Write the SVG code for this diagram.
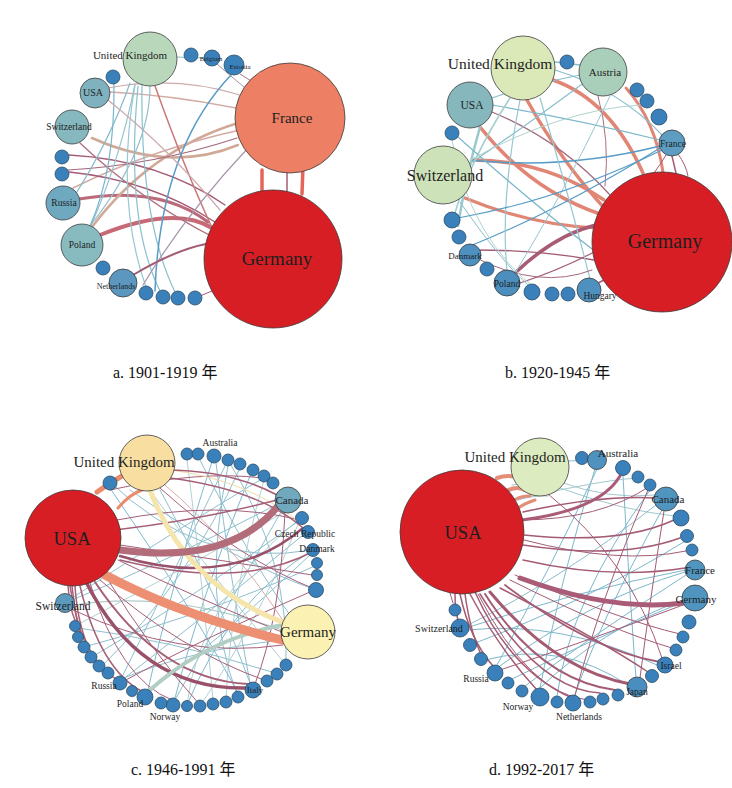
<svg xmlns="http://www.w3.org/2000/svg" width="732" height="788" viewBox="0 0 732 788">
<style>
.e{fill:none;stroke-linecap:round}
.r{stroke:#de7866}.rr{stroke:#e2554a}.m{stroke:#9b4a66}.t{stroke:#6fb0c6}.lt{stroke:#a5cccb}.b{stroke:#4592c0}.lr{stroke:#cfa39c}.y{stroke:#f4e2a0}.br{stroke:#cda08c}
.w1{stroke-width:1}.w15{stroke-width:1.5}.w2{stroke-width:2}.w3{stroke-width:3}
.n{stroke:#3c3c3c;stroke-width:0.8}
.s{fill:#3a80ba;stroke:#2b4d66;stroke-width:0.8}
.lbl{font-family:"Liberation Serif","Times New Roman",serif;fill:#1e1e1e;text-anchor:middle}
.cap{font-family:"Liberation Serif","Noto Sans CJK SC",serif;font-size:16px;fill:#111}
</style>
<rect width="732" height="788" fill="#ffffff"/>

<!-- ================= Panel a ================= -->
<g id="edges-a" class="e" opacity="0.9">
<path class="rr" stroke-width="3.5" d="M262 170 L262 196"/>
<path class="m w15" d="M287 173 L287 192"/>
<path class="rr" stroke-width="3.5" d="M303 166 L302 194"/>
<path stroke="#c25a68" stroke-width="4" d="M100 235 Q175 205 212 228"/>
<path stroke="#b45a6c" stroke-width="3" d="M79 199 Q160 185 208 222"/>
<path class="br" stroke-width="2.5" d="M92 138 Q170 173 238 145"/>
<path class="br" stroke-width="2.5" d="M92 227 Q150 150 238 123"/>
<path class="lr w15" d="M73 188 Q150 150 240 130"/>
<path class="lr w15" d="M110 92 Q170 95 236 108"/>
<path stroke="#c8a4a6" stroke-width="1.2" d="M108 88 Q175 75 240 95"/>
<path class="m" stroke-width="1.3" d="M69 155 Q160 160 225 205"/>
<path class="m" stroke-width="1.3" d="M69 172 Q150 180 215 222"/>
<path stroke="#9a5a72" stroke-width="1.2" d="M68 170 Q155 165 237 138"/>
<path stroke="#a86070" stroke-width="1.3" d="M80 143 Q140 200 215 238"/>
<path stroke="#c56a6a" stroke-width="1.5" d="M155 86 Q185 170 214 232"/>
<path stroke="#7cb9c8" stroke-width="1.2" d="M142 85 Q140 220 175 292"/>
<path stroke="#7cb9c8" stroke-width="1.2" d="M138 86 Q125 220 160 291"/>
<path stroke="#8cc2cc" stroke-width="1.2" d="M135 85 Q115 200 146 287"/>
<path stroke="#78b4c6" stroke-width="1.2" d="M130 83 Q110 140 75 195"/>
<path stroke="#88bcc8" stroke-width="1.2" d="M135 84 Q120 160 90 228"/>
<path stroke="#6aaec8" stroke-width="1.2" d="M114 84 Q115 170 90 226"/>
<path class="b w15" d="M231 75 Q160 150 155 291"/>
<path stroke="#7cb9c8" stroke-width="1.2" d="M175 57 L205 58"/>
<path stroke="#9d8aa2" stroke-width="1.2" d="M248 148 Q185 215 143 285"/>
<path class="m w2" d="M133 275 Q175 250 206 244"/>
<path class="m w1" d="M200 296 L212 291"/>
<path stroke="#9b8a9a" stroke-width="1" d="M217 64 Q235 80 248 90"/>
<path stroke="#9b6a7a" stroke-width="1" d="M240 74 L256 84"/>
<path stroke="#c8a0a6" stroke-width="1.2" d="M108 100 Q170 150 220 210"/>
<path stroke="#8ab8c4" stroke-width="1.2" d="M90 226 Q150 150 150 86"/>
</g>
<g id="a-uk"><circle class="n" cx="150" cy="59" r="27" fill="#b9d8bb"/><text class="lbl" x="130" y="59" font-size="11">United Kingdom</text></g>
<g id="a-s1"><circle class="s" cx="191" cy="55" r="7"/></g>
<g id="a-belgium"><circle class="s" cx="212" cy="58" r="8"/><text class="lbl" x="211" y="61" font-size="6.5">Belgium</text></g>
<g id="a-estonia"><circle class="s" cx="234" cy="65" r="10" fill="#4a8ebf"/><text class="lbl" x="240" y="69" font-size="7">Estonia</text></g>
<g id="a-france"><circle class="n" cx="290" cy="118" r="55" fill="#ec7f64"/><text class="lbl" x="292" y="123" font-size="15">France</text></g>
<g id="a-germany"><circle class="n" cx="273" cy="259" r="69" fill="#d81e25"/><text class="lbl" x="277" y="265" font-size="19">Germany</text></g>
<g id="a-usa"><circle class="n" cx="95" cy="93" r="15" fill="#7fb1be"/><text class="lbl" x="93" y="96" font-size="10">USA</text></g>
<g id="a-s2"><circle class="s" cx="113" cy="77" r="7"/></g>
<g id="a-switzerland"><circle class="n" cx="72" cy="127" r="17" fill="#85b8bf"/><text class="lbl" x="69" y="130" font-size="9.5">Switzerland</text></g>
<g id="a-s3"><circle class="s" cx="62" cy="157" r="7"/></g>
<g id="a-s4"><circle class="s" cx="62" cy="174" r="7"/></g>
<g id="a-russia"><circle class="n" cx="63" cy="203" r="17" fill="#6fa9bf"/><text class="lbl" x="64" y="206" font-size="9.5">Russia</text></g>
<g id="a-poland"><circle class="n" cx="82" cy="245" r="21" fill="#87bbc0"/><text class="lbl" x="82" y="248" font-size="9.5">Poland</text></g>
<g id="a-s5"><circle class="s" cx="103" cy="268" r="7"/></g>
<g id="a-netherlands"><circle class="n" cx="123" cy="283" r="14" fill="#5b97be"/><text class="lbl" x="116" y="289" font-size="8">Netherlands</text></g>
<g id="a-s6"><circle class="s" cx="146" cy="293" r="7"/></g>
<g id="a-s7"><circle class="s" cx="163" cy="297" r="7"/></g>
<g id="a-s8"><circle class="s" cx="178" cy="298" r="7"/></g>
<g id="a-s9"><circle class="s" cx="195" cy="298" r="7"/></g>
<text class="cap" x="113" y="378">a. 1901-1919 年</text>

<!-- ================= Panel b ================= -->
<g id="edges-b" class="e" opacity="0.9">
<path class="r" stroke-width="3.5" d="M527 100 Q560 160 606 210"/>
<path class="r" stroke-width="3.5" d="M553 80 Q610 100 643 173"/>
<path class="r" stroke-width="3" d="M626 88 Q655 120 663 172"/>
<path class="r" stroke-width="3.5" d="M480 127 Q530 190 600 214"/>
<path class="r" stroke-width="3.5" d="M472 160 Q545 160 604 200"/>
<path class="r" stroke-width="3" d="M465 198 Q530 225 597 228"/>
<path stroke="#a04a66" stroke-width="3.5" d="M515 273 Q555 235 596 225"/>
<path class="m" stroke-width="1.3" d="M475 250 Q540 250 594 260"/>
<path class="m w15" d="M598 283 L606 279"/>
<path class="m" stroke-width="1.2" d="M520 283 Q560 270 598 250"/>
<path stroke="#9b5a70" stroke-width="1.3" d="M492 112 Q560 140 610 195"/>
<path stroke="#a06070" stroke-width="1" d="M598 96 Q610 140 605 186"/>
<path class="m w15" d="M672 156 L676 173"/>
<path class="m w1" d="M666 155 Q660 165 654 173"/>
<path class="m w1" d="M678 154 Q686 165 688 176"/>
<path class="b w15" d="M471 160 Q565 170 660 146"/>
<path class="t" stroke-width="1.2" d="M492 105 Q580 120 660 140"/>
<path stroke="#7cb9c8" stroke-width="1.2" d="M555 70 Q620 90 662 135"/>
<path class="b" stroke-width="1.2" d="M470 246 Q560 210 660 148"/>
<path stroke="#7cb9c8" stroke-width="1.2" d="M585 82 Q520 130 468 165"/>
<path stroke="#7cb9c8" stroke-width="1.2" d="M580 75 Q530 85 492 98"/>
<path stroke="#8ec4c8" stroke-width="2.5" d="M480 127 Q465 180 458 226"/>
<path stroke="#9ac8c8" stroke-width="1.5" d="M510 98 Q470 160 455 213"/>
<path stroke="#8cc2cc" stroke-width="1.2" d="M540 98 Q570 200 590 279"/>
<path stroke="#8cc2cc" stroke-width="1.2" d="M520 100 Q500 200 507 271"/>
<path stroke="#8cc2cc" stroke-width="1" d="M610 96 Q560 200 515 273"/>
<path class="t" stroke-width="1.2" d="M458 137 Q540 210 600 255"/>
<path stroke="#7cb9c8" stroke-width="1" d="M460 202 Q500 260 528 285"/>
<path stroke="#a8d0cc" stroke-width="1" d="M640 105 Q560 110 470 160"/>
<path stroke="#7cb9c8" stroke-width="1.5" d="M555 62 L580 65"/>
<path class="b" stroke-width="1.2" d="M458 218 Q560 200 662 150"/>
<path stroke="#9b5a70" stroke-width="1" d="M476 258 Q540 290 592 270"/>
<path stroke="#a8d0cc" stroke-width="1" d="M452 140 Q470 240 540 292"/>
</g>
<g id="b-uk"><circle class="n" cx="523" cy="68" r="32" fill="#dbe8b8"/><text class="lbl" x="500" y="69" font-size="15.5">United Kingdom</text></g>
<g id="b-s1"><circle class="s" cx="567" cy="62" r="7"/></g>
<g id="b-austria"><circle class="n" cx="603" cy="72" r="24" fill="#a9cfba"/><text class="lbl" x="605" y="76" font-size="11">Austria</text></g>
<g id="b-usa"><circle class="n" cx="470" cy="105" r="23" fill="#85b7bd"/><text class="lbl" x="472" y="109" font-size="11.5">USA</text></g>
<g id="b-s2"><circle class="s" cx="637" cy="90" r="7"/></g>
<g id="b-s3"><circle class="s" cx="647" cy="101" r="7"/></g>
<g id="b-s4"><circle class="s" cx="659" cy="117" r="8"/></g>
<g id="b-france"><circle class="n" cx="672" cy="143" r="13" fill="#5d9dc1"/><text class="lbl" x="673" y="147" font-size="9.5">France</text></g>
<g id="b-s5"><circle class="s" cx="452" cy="133" r="7"/></g>
<g id="b-switzerland"><circle class="n" cx="443" cy="175" r="29" fill="#cde2b9"/><text class="lbl" x="445" y="181" font-size="16">Switzerland</text></g>
<g id="b-germany"><circle class="n" cx="662" cy="242" r="70" fill="#d81e25"/><text class="lbl" x="665" y="248" font-size="20">Germany</text></g>
<g id="b-s6"><circle class="s" cx="452" cy="220" r="8"/></g>
<g id="b-s7"><circle class="s" cx="459" cy="237" r="7"/></g>
<g id="b-danmark"><circle class="n" cx="470" cy="255" r="11" fill="#4e90bf"/><text class="lbl" x="465" y="259" font-size="9">Danmark</text></g>
<g id="b-s8"><circle class="s" cx="487" cy="269" r="7"/></g>
<g id="b-poland"><circle class="n" cx="507" cy="283" r="13" fill="#4c8fbe"/><text class="lbl" x="507" y="287" font-size="9.5">Poland</text></g>
<g id="b-s9"><circle class="s" cx="532" cy="292" r="8"/></g>
<g id="b-s10"><circle class="s" cx="552" cy="294" r="7"/></g>
<g id="b-s11"><circle class="s" cx="568" cy="294" r="7"/></g>
<g id="b-hungary"><circle class="n" cx="589" cy="290" r="12" fill="#4e90be"/><text class="lbl" x="600" y="299" font-size="9.5">Hungary</text></g>
<text class="cap" x="505" y="378">b. 1920-1945 年</text>

<!-- ================= Panel c ================= -->
<g id="edges-c" class="e" opacity="0.88">
<path stroke="#7fb7c7" stroke-width="1" d="M276 505 Q170 560 72 600"/>
<path stroke="#6fb0c6" stroke-width="1" d="M212 462 Q170 590 148 690"/>
<path stroke="#7fb7c7" stroke-width="1" d="M216 463 Q230 580 250 683"/>
<path stroke="#7fb7c7" stroke-width="1" d="M225 466 Q160 600 122 677"/>
<path stroke="#7fb7c7" stroke-width="1" d="M200 460 Q250 560 290 615"/>
<path stroke="#6fb0c6" stroke-width="1" d="M250 476 Q200 600 175 698"/>
<path stroke="#a8c8c4" stroke-width="1.2" d="M282 630 Q170 590 74 605"/>
<path stroke="#7fb7c7" stroke-width="1" d="M283 640 Q190 650 124 678"/>
<path stroke="#7fb7c7" stroke-width="1" d="M303 535 Q200 620 122 680"/>
<path stroke="#7fb7c7" stroke-width="1" d="M282 510 Q220 620 176 698"/>
<path stroke="#7fb7c7" stroke-width="1" d="M160 490 Q220 600 250 683"/>
<path stroke="#7fb7c7" stroke-width="1" d="M260 480 Q160 540 72 598"/>
<path stroke="#7fb7c7" stroke-width="1" d="M310 555 Q220 640 148 692"/>
<path stroke="#a8ccd0" stroke-width="1" d="M187 460 Q200 560 213 700"/>
<path stroke="#7fb7c7" stroke-width="1" d="M272 672 Q170 640 78 628"/>
<path stroke="#7fb7c7" stroke-width="1" d="M240 468 Q190 580 100 668"/>
<path stroke="#a8ccd0" stroke-width="1" d="M264 480 Q230 600 226 700"/>
<path stroke="#7fb7c7" stroke-width="1" d="M317 565 Q220 610 84 647"/>
<path stroke="#7fb7c7" stroke-width="1" d="M312 550 Q200 570 108 480"/>
<path stroke="#a8ccd0" stroke-width="1" d="M286 665 Q200 560 150 490"/>
<path stroke="#7fb7c7" stroke-width="1" d="M238 697 Q200 600 228 466"/>
<path stroke="#a8ccd0" stroke-width="1" d="M298 520 Q200 600 187 704"/>
<path stroke="#7fb7c7" stroke-width="1" d="M92 657 Q190 600 300 520"/>
<path stroke="#7fb7c7" stroke-width="1" d="M130 490 Q230 560 316 590"/>
<path stroke="#6fb0c6" stroke-width="1" d="M108 485 Q200 620 240 697"/>
<path stroke="#a8ccd0" stroke-width="1" d="M300 520 Q260 620 200 706"/>
<path stroke="#7fb7c7" stroke-width="1" d="M228 460 Q290 560 286 665"/>
<path stroke="#6fb0c6" stroke-width="1" d="M187 705 Q230 600 313 550"/>
<path stroke="#a8ccd0" stroke-width="1" d="M75 626 Q200 560 288 510"/>
<path class="m w1" d="M285 512 Q280 620 255 684"/>
<path class="m w1" d="M120 545 Q220 560 312 575"/>
<path class="m w1" d="M118 560 Q200 600 282 632"/>
<path stroke="#d4a2a0" stroke-width="1" d="M165 485 Q230 540 284 622"/>
<path class="m w1" d="M310 592 Q200 640 122 682"/>
<path class="m w1" d="M73 610 Q180 660 283 645"/>
<path class="m w1" d="M110 490 Q200 470 262 478"/>
<path class="m w1" d="M117 520 Q220 500 300 520"/>
<path class="m w1" d="M160 488 Q240 560 317 590"/>
<path class="m w1" d="M105 575 Q150 650 200 705"/>
<path class="m w1" d="M100 580 Q180 650 264 680"/>
<path stroke="#f0d89c" stroke-width="1" d="M170 470 Q250 480 303 525"/>
<path class="m w15" d="M75 586 Q80 660 118 680"/>
<path class="m w15" d="M80 586 Q100 670 143 692"/>
<path class="m w1" d="M90 583 Q120 680 172 700"/>
<path class="m w15" d="M68 586 Q70 610 75 620"/>
<path class="m w15" d="M72 586 Q76 620 80 632"/>
<path class="m w15" d="M70 586 Q78 630 86 643"/>
<path class="m w15" d="M115 530 Q200 520 277 500"/>
<path class="m w15" d="M165 470 Q230 470 277 495"/>
<path class="m w15" d="M170 478 Q260 490 303 528"/>
<path class="m w15" d="M120 560 Q240 590 312 552"/>
<path stroke="#8c3a55" stroke-width="2.5" d="M120 556 Q230 590 303 528"/>
<path stroke="#9b4a62" stroke-width="2" d="M95 582 Q160 680 248 684"/>
<path stroke="#8c3a55" stroke-width="3.5" d="M85 580 Q140 690 246 688"/>
<path stroke="#a8c8bc" stroke-width="4" d="M150 690 Q205 640 282 625"/>
<path stroke="#ea7a58" stroke-width="5" d="M97 492 Q108 484 122 476"/>
<path stroke="#ea7a58" stroke-width="3" d="M118 508 Q130 494 142 490"/>
<path stroke="#f4e2a0" stroke-width="5" d="M150 490 Q186 585 282 622"/>
<path stroke="#a85868" stroke-width="7" d="M120 550 Q230 565 278 506"/>
<path stroke="#ea8060" stroke-width="9" d="M105 575 Q180 615 282 640"/>
</g>
<g id="c-usa"><circle class="n" cx="73" cy="538" r="48" fill="#d81e25"/><text class="lbl" x="72" y="545" font-size="18.5">USA</text></g>
<g id="c-uk"><circle class="n" cx="147" cy="463" r="28" fill="#f9dea2"/><text class="lbl" x="124" y="467" font-size="15">United Kingdom</text></g>
<g id="c-s1"><circle class="s" cx="110" cy="483" r="7"/></g>
<g id="c-s2"><circle class="s" cx="187" cy="454" r="6"/></g>
<g id="c-s3"><circle class="s" cx="198" cy="454" r="6"/></g>
<g id="c-australia"><circle class="s" cx="214" cy="456" r="7"/><text class="lbl" x="220" y="446" font-size="9.5">Australia</text></g>
<g id="c-s4"><circle class="s" cx="228" cy="460" r="6"/></g>
<g id="c-s5"><circle class="s" cx="240" cy="464" r="6"/></g>
<g id="c-s6"><circle class="s" cx="253" cy="470" r="6"/></g>
<g id="c-s7"><circle class="s" cx="264" cy="476" r="6"/></g>
<g id="c-s8"><circle class="s" cx="273" cy="483" r="6"/></g>
<g id="c-canada"><circle class="n" cx="288" cy="500" r="13" fill="#70a8bd"/><text class="lbl" x="292" y="504" font-size="11">Canada</text></g>
<g id="c-s9"><circle class="s" cx="302" cy="518" r="6.5"/></g>
<g id="c-czech"><circle class="s" cx="308" cy="532" r="6.5"/><text class="lbl" x="305" y="537" font-size="9.5">Czech Republic</text></g>
<g id="c-danmark"><circle class="s" cx="313" cy="550" r="6.5"/><text class="lbl" x="317" y="552" font-size="9.5">Danmark</text></g>
<g id="c-s10"><circle class="s" cx="317" cy="563" r="5.5"/></g>
<g id="c-s11"><circle class="s" cx="317" cy="575" r="5.5"/></g>
<g id="c-s12"><circle class="s" cx="316" cy="590" r="7.5"/></g>
<g id="c-germany"><circle class="n" cx="308" cy="632" r="27" fill="#fbf1b2"/><text class="lbl" x="308" y="637" font-size="15">Germany</text></g>
<g id="c-s13"><circle class="s" cx="286" cy="665" r="6"/></g>
<g id="c-s14"><circle class="s" cx="277" cy="674" r="6"/></g>
<g id="c-s15"><circle class="s" cx="267" cy="681" r="6"/></g>
<g id="c-italy"><circle class="s" cx="253" cy="690" r="8"/><text class="lbl" x="255" y="693" font-size="9">Italy</text></g>
<g id="c-s16"><circle class="s" cx="238" cy="697" r="6"/></g>
<g id="c-s17"><circle class="s" cx="226" cy="702" r="6"/></g>
<g id="c-s18"><circle class="s" cx="213" cy="704" r="6"/></g>
<g id="c-s19"><circle class="s" cx="200" cy="706" r="6"/></g>
<g id="c-s20"><circle class="s" cx="187" cy="706" r="5.5"/></g>
<g id="c-s21"><circle class="s" cx="173" cy="705" r="7"/></g>
<g id="c-s22"><circle class="s" cx="161" cy="703" r="6"/></g>
<g id="c-norway"><text class="lbl" x="165" y="720" font-size="9.5">Norway</text></g>
<g id="c-poland"><circle class="s" cx="145" cy="697" r="8"/><text class="lbl" x="130" y="707" font-size="9.5">Poland</text></g>
<g id="c-s23"><circle class="s" cx="132" cy="691" r="5.5"/></g>
<g id="c-russia"><circle class="s" cx="120" cy="683" r="7"/><text class="lbl" x="104" y="689" font-size="9.5">Russia</text></g>
<g id="c-s24"><circle class="s" cx="108" cy="673" r="6"/></g>
<g id="c-s25"><circle class="s" cx="99" cy="666" r="6"/></g>
<g id="c-s26"><circle class="s" cx="91" cy="657" r="6"/></g>
<g id="c-s27"><circle class="s" cx="84" cy="647" r="6"/></g>
<g id="c-s28"><circle class="s" cx="78" cy="637" r="5.5"/></g>
<g id="c-s29"><circle class="s" cx="75" cy="626" r="5.5"/></g>
<g id="c-switzerland"><circle class="n" cx="65" cy="603" r="9.5" fill="#5c9abd"/><text class="lbl" x="63" y="610" font-size="11.5">Switzerland</text></g>
<text class="cap" x="131" y="775">c. 1946-1991 年</text>

<!-- ================= Panel d ================= -->
<g id="edges-d" class="e" opacity="0.9">
<path stroke="#9ac4c8" stroke-width="1" d="M560 482 Q610 500 655 495"/>
<path stroke="#9ac4c8" stroke-width="1" d="M560 488 Q620 510 674 516"/>
<path stroke="#7cb9c8" stroke-width="1.2" d="M569 461 L590 460"/>
<path class="t w1" d="M595 469 Q560 580 540 688"/>
<path class="t w1" d="M597 469 Q555 560 497 665"/>
<path class="t w1" d="M685 572 Q590 600 497 668"/>
<path class="t w1" d="M686 570 Q580 590 466 628"/>
<path class="t w1" d="M683 600 Q600 630 540 688"/>
<path class="t w1" d="M683 602 Q590 640 510 680"/>
<path class="t w1" d="M662 510 Q600 620 575 695"/>
<path stroke="#7fb7c7" stroke-width="1" d="M656 505 Q560 580 468 625"/>
<path class="t w1" d="M623 476 Q630 600 636 678"/>
<path class="t w1" d="M686 575 Q600 630 525 686"/>
<path class="t w1" d="M628 685 Q560 640 485 660"/>
<path class="t w1" d="M657 665 Q560 620 468 630"/>
<path class="t w1" d="M687 540 Q590 600 470 645"/>
<path class="t w1" d="M650 490 Q570 600 557 696"/>
<path stroke="#9ac4c8" stroke-width="1" d="M512 485 Q530 480 545 494"/>
<path stroke="#9ac4c8" stroke-width="1" d="M518 500 Q535 495 548 496"/>
<path stroke="#9ac4c8" stroke-width="1" d="M515 500 Q600 480 638 478"/>
<path class="m w1" d="M683 605 Q590 640 500 670"/>
<path class="m w1" d="M648 490 Q600 600 575 695"/>
<path class="m w1" d="M664 511 Q650 600 640 678"/>
<path class="m w1" d="M548 494 Q630 560 662 658"/>
<path class="m w15" d="M523 512 Q600 495 655 498"/>
<path class="m w15" d="M523 560 Q610 580 685 568"/>
<path class="m w15" d="M524 535 Q620 545 674 520"/>
<path class="m w15" d="M523 545 Q620 560 680 538"/>
<path class="m" stroke-width="1.8" d="M505 585 Q590 650 660 662"/>
<path class="m w2" d="M485 594 Q540 680 615 690"/>
<path class="m w15" d="M475 592 Q510 670 570 697"/>
<path class="m w15" d="M470 594 Q500 650 537 690"/>
<path class="m w15" d="M460 594 Q470 640 493 666"/>
<path class="m w15" d="M455 594 Q455 610 458 620"/>
<path class="m w1" d="M450 593 L453 603"/>
<path class="m w15" d="M465 594 Q470 630 480 652"/>
<path class="m w15" d="M500 588 Q600 640 648 672"/>
<path class="m w1" d="M510 580 Q610 630 672 648"/>
<path class="m w1" d="M515 575 Q620 620 680 634"/>
<path class="m w1" d="M524 540 Q620 565 686 551"/>
<path class="m w15" d="M480 594 Q540 690 600 693"/>
<path class="m w1" d="M478 594 Q530 695 588 700"/>
<path class="m w1" d="M520 520 Q600 520 650 486"/>
<path stroke="#9b4a62" stroke-width="3" d="M490 592 Q555 670 630 684"/>
<path stroke="#a04a6a" stroke-width="3" d="M522 520 Q600 510 620 476"/>
<path stroke="#a04a6a" stroke-width="5" d="M520 578 Q612 612 683 603"/>
<path stroke="#e0826a" stroke-width="4" d="M497 478 Q508 474 520 478"/>
<path stroke="#e0826a" stroke-width="4" d="M505 492 Q515 485 525 490"/>
<path stroke="#e0826a" stroke-width="3" d="M510 503 Q520 495 530 496"/>
<path stroke="#e0826a" stroke-width="3" d="M515 510 Q525 503 535 500"/>
</g>
<g id="d-usa"><circle class="n" cx="462" cy="532" r="62" fill="#d81e25"/><text class="lbl" x="463" y="539" font-size="18.5">USA</text></g>
<g id="d-uk"><circle class="n" cx="540" cy="467" r="29" fill="#dcebc0"/><text class="lbl" x="515" y="462" font-size="15">United Kingdom</text></g>
<g id="d-s1"><circle class="s" cx="582" cy="458" r="6.5"/></g>
<g id="d-australia"><circle class="n" cx="597" cy="460" r="9.5" fill="#4f92bf"/><text class="lbl" x="618" y="457" font-size="11">Australia</text></g>
<g id="d-s2"><circle class="s" cx="623" cy="468" r="7.5"/></g>
<g id="d-s3"><circle class="s" cx="638" cy="477" r="6"/></g>
<g id="d-s4"><circle class="s" cx="650" cy="485" r="6"/></g>
<g id="d-canada"><circle class="n" cx="666" cy="499" r="12" fill="#5095bf"/><text class="lbl" x="668" y="503" font-size="11">Canada</text></g>
<g id="d-s5"><circle class="s" cx="681" cy="518" r="8"/></g>
<g id="d-s6"><circle class="s" cx="687" cy="536" r="6.5"/></g>
<g id="d-s7"><circle class="s" cx="692" cy="550" r="6"/></g>
<g id="d-france"><circle class="n" cx="695" cy="570" r="10" fill="#5095bf"/><text class="lbl" x="700" y="574" font-size="11">France</text></g>
<g id="d-germany"><circle class="n" cx="695" cy="598" r="13" fill="#5095bf"/><text class="lbl" x="696" y="603" font-size="11">Germany</text></g>
<g id="d-s8"><circle class="s" cx="689" cy="622" r="7"/></g>
<g id="d-s9"><circle class="s" cx="683" cy="637" r="6"/></g>
<g id="d-s10"><circle class="s" cx="676" cy="650" r="6"/></g>
<g id="d-israel"><circle class="s" cx="665" cy="665" r="8"/><text class="lbl" x="671" y="669" font-size="9.5">Israel</text></g>
<g id="d-s11"><circle class="s" cx="652" cy="676" r="6.5"/></g>
<g id="d-japan"><circle class="n" cx="637" cy="687" r="10" fill="#4a8ebf"/><text class="lbl" x="637" y="695" font-size="9.5">Japan</text></g>
<g id="d-s12"><circle class="s" cx="618" cy="695" r="6"/></g>
<g id="d-s13"><circle class="s" cx="603" cy="699" r="6"/></g>
<g id="d-s14"><circle class="s" cx="590" cy="702" r="6"/></g>
<g id="d-netherlands"><circle class="s" cx="573" cy="703" r="8"/><text class="lbl" x="579" y="720" font-size="9.5">Netherlands</text></g>
<g id="d-s15"><circle class="s" cx="557" cy="702" r="6"/></g>
<g id="d-norway"><circle class="s" cx="540" cy="697" r="9"/><text class="lbl" x="518" y="710" font-size="9.5">Norway</text></g>
<g id="d-s16"><circle class="s" cx="522" cy="691" r="6"/></g>
<g id="d-s17"><circle class="s" cx="508" cy="683" r="6"/></g>
<g id="d-russia"><circle class="s" cx="495" cy="673" r="8"/><text class="lbl" x="476" y="682" font-size="9.5">Russia</text></g>
<g id="d-s18"><circle class="s" cx="481" cy="659" r="6.5"/></g>
<g id="d-s19"><circle class="s" cx="470" cy="645" r="6.5"/></g>
<g id="d-switzerland"><circle class="s" cx="460" cy="628" r="9"/><text class="lbl" x="439" y="632" font-size="10">Switzerland</text></g>
<g id="d-s20"><circle class="s" cx="455" cy="610" r="6"/></g>
<text class="cap" x="489" y="775">d. 1992-2017 年</text>
</svg>
